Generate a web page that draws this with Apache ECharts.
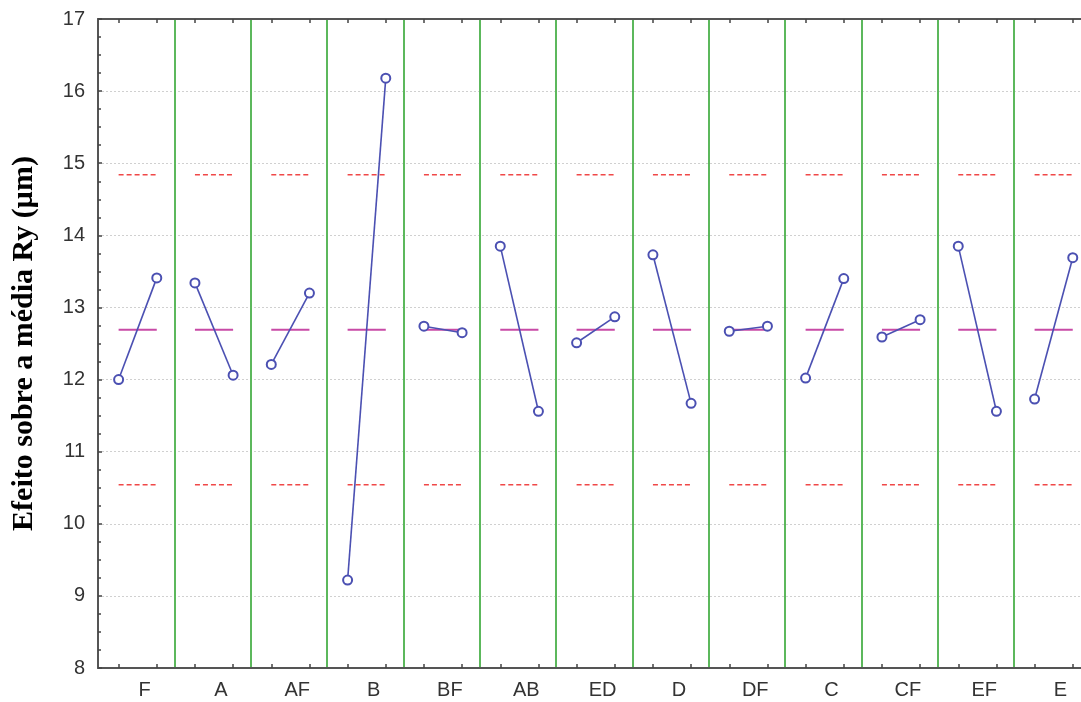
<!DOCTYPE html>
<html>
<head>
<meta charset="utf-8">
<script src="https://cdn.jsdelivr.net/npm/echarts@6/dist/echarts.min.js"></script>
<style>
  html, body { margin: 0; padding: 0; background: #fff; }
  #chart { width: 1081px; height: 702px; }
</style>
</head>
<body>
<div id="chart"></div>
<script>
// factors in plot order, mean response at the low (-) and high (+) level
const factors = ["F", "A", "AF", "B", "BF", "AB", "ED", "D", "DF", "C", "CF", "EF", "E"];
const lowLevel = [12.00, 13.34, 12.21, 9.22, 12.74, 13.85, 12.51, 13.73, 12.67, 12.02, 12.59, 13.85, 11.73];
const highLevel = [13.41, 12.06, 13.20, 16.18, 12.65, 11.56, 12.87, 11.67, 12.74, 13.40, 12.83, 11.56, 13.69];
const grandMean = 12.69;
const upperLimit = 14.84;
const lowerLimit = 10.54;

// within each panel (width 1) the two levels sit at these offsets
const lowPos = 0.27;
const highPos = 0.77;
const labelPos = 0.61;
// the original picture is cut just before the end of the last panel
const xMax = 12.878;

const series = [];
factors.forEach((f, i) => {
  const x1 = i + lowPos, x2 = i + highPos;
  series.push({
    type: "line", name: f + "_lim_hi", silent: true, symbol: "none",
    lineStyle: { color: "#f04848", width: 1.5, type: [5, 3] },
    data: [[x1, upperLimit], [x2, upperLimit]]
  });
  series.push({
    type: "line", name: f + "_lim_lo", silent: true, symbol: "none",
    lineStyle: { color: "#f04848", width: 1.5, type: [5, 3] },
    data: [[x1, lowerLimit], [x2, lowerLimit]]
  });
  series.push({
    type: "line", name: f + "_mean", silent: true, symbol: "none",
    lineStyle: { color: "#c84aa6", width: 2 },
    data: [[x1, grandMean], [x2, grandMean]]
  });
  series.push({
    type: "line", name: f, symbol: "emptyCircle", symbolSize: 9, z: 5,
    lineStyle: { color: "#4b50b2", width: 1.6 },
    itemStyle: { color: "#4b50b2", borderWidth: 1.6 },
    data: [[x1, lowLevel[i]], [x2, highLevel[i]]]
  });
});

const tickVals = [];
factors.forEach((f, i) => { tickVals.push(i + lowPos, i + highPos); });
const labelVals = factors.map((f, i) => i + labelPos);
const sepVals = factors.slice(1).map((f, i) => i + 1);

const chart = echarts.init(document.getElementById("chart"));
chart.setOption({
  animation: false,
  grid: { left: 98, top: 19, right: 0, bottom: 34 },
  xAxis: [
    {
      type: "value", min: 0, max: xMax, position: "bottom",
      axisLine: { lineStyle: { color: "#555", width: 2 } },
      axisTick: { inside: true, length: 4, customValues: tickVals, lineStyle: { color: "#444", width: 1.5 } },
      axisLabel: {
        customValues: labelVals, margin: 12,
        fontFamily: "Liberation Sans", fontSize: 20, color: "#333",
        formatter: v => factors[Math.floor(v)]
      },
      splitLine: { show: false }
    },
    {
      type: "value", min: 0, max: xMax, position: "top",
      axisLine: { lineStyle: { color: "#555", width: 2 } },
      axisTick: { inside: true, length: 4, customValues: tickVals, lineStyle: { color: "#444", width: 1.5 } },
      axisLabel: { show: false },
      splitLine: { show: false }
    },
    {
      // panel separators
      type: "value", min: 0, max: xMax, position: "bottom",
      axisLine: { show: false }, axisLabel: { show: false },
      axisTick: { show: false, customValues: sepVals },
      splitLine: { show: true, lineStyle: { color: "#5cb85c", width: 2 } }
    }
  ],
  yAxis: {
    type: "value", min: 8, max: 17, interval: 1,
    name: "Efeito sobre a média Ry (µm)",
    nameLocation: "middle", nameGap: 59,
    nameTextStyle: { fontFamily: "Liberation Serif", fontWeight: "bold", fontSize: 30, color: "#000" },
    axisLine: { show: true, lineStyle: { color: "#555", width: 2 } },
    axisTick: { show: true, inside: true, length: 4, lineStyle: { color: "#444", width: 1.5 } },
    minorTick: { show: true, splitNumber: 4, length: 3, lineStyle: { color: "#444", width: 1.5 } },
    axisLabel: { margin: 13, fontFamily: "Liberation Sans", fontSize: 20, color: "#333" },
    splitLine: { show: true, lineStyle: { color: "#d0d0d0", width: 1, type: [2, 2] } }
  },
  series: series
});
</script>
</body>
</html>
